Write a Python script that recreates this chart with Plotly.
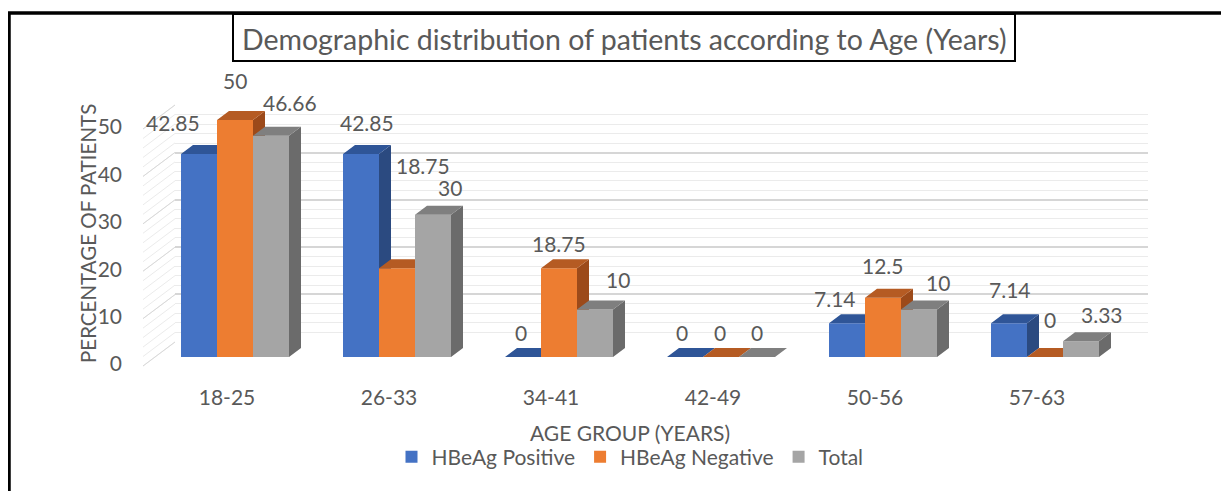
import plotly.graph_objects as go

# -----------------------------------------------------------------------------
# 1. Data
# -----------------------------------------------------------------------------
age_groups = ["18-25", "26-33", "34-41", "42-49", "50-56", "57-63"]
hbeag_positive = [42.85, 42.85, 0, 0, 7.14, 7.14]
hbeag_negative = [50, 18.75, 18.75, 0, 12.5, 0]
total = [46.66, 30, 10, 0, 10, 3.33]

series_names = ["HBeAg Positive", "HBeAg Negative", "Total"]
series_values = [hbeag_positive, hbeag_negative, total]
y_ticks = [0, 10, 20, 30, 40, 50]

# face colours (front / top / side) like Excel's 3D columns
front_colors = ["#4472C4", "#ED7D31", "#A5A5A5"]
top_colors = ["#2F5597", "#B55B23", "#7F7F7F"]
side_colors = ["#2B4A80", "#9C4A1A", "#6B6B6B"]

# Excel moved some data labels around, px nudges (right, up) from the bar top
label_nudge = [
    [(-26, 31), (6, 31), (-2, 25), (-3, 25), (-12, 25), (1, 34)],
    [(0, 40), (26, 103), (0, 25), (-1, 25), (0, 32), (5, 38)],
    [(19, 33), (17, 27), (23, 30), (0, 25), (19, 27), (21, 27)],
]

# -----------------------------------------------------------------------------
# 2. Page geometry (page px; the plot div sits 8px in from the body edge)
# -----------------------------------------------------------------------------
W, H, OFF = 1229, 491, 8
FW, FH = W - OFF, H - OFF
X0_PX, X_STEP = 235, 162      # first cluster centre, cluster spacing
Y0_PX, Y_PX = 357, 4.74       # bar base line, px per percent
DEPTH = (12, 9)               # bar depth offset (right, up)
WALL_FRONT = (143, 366)       # side wall front corner at 0
WALL_BACK = (175, 342)        # back wall corner at 0
WALL_RIGHT = 1148
FONT = "Lato"
GREY = "#595959"


def paper_x(p):
    return (p - OFF) / FW


def paper_y(p):
    return 1 - (p - OFF) / FH


x_range = [(OFF - X0_PX) / X_STEP, (W - X0_PX) / X_STEP]
y_range = [(Y0_PX - H) / Y_PX, (Y0_PX - OFF) / Y_PX]
dx = DEPTH[0] / X_STEP
dy = DEPTH[1] / Y_PX
bar_w = 2 / 9

fig = go.Figure()

# placeholders so the back-wall grid and the label axes get drawn
fig.add_trace(go.Scatter(x=[None], y=[None], showlegend=False, xaxis="x", yaxis="y"))

# side wall hatch (lines running from the front edge to the back wall)
for step, color in [(2, "#EBEBEB"), (10, "#D9D9D9")]:
    wx, wy = [], []
    for v in range(0, 51, step):
        wx += [(WALL_FRONT[0] - X0_PX) / X_STEP, (WALL_BACK[0] - X0_PX) / X_STEP, None]
        wy += [v + (Y0_PX - WALL_FRONT[1]) / Y_PX, v + (Y0_PX - WALL_BACK[1]) / Y_PX, None]
    fig.add_trace(go.Scatter(x=wx, y=wy, mode="lines", line=dict(color=color, width=1),
                             showlegend=False, hoverinfo="skip", xaxis="x2", yaxis="y2"))

# -----------------------------------------------------------------------------
# 3. Bars: one overlaid subplot per series so later series hide earlier sides
# -----------------------------------------------------------------------------
for s, (name, vals) in enumerate(zip(series_names, series_values)):
    xa, ya = f"x{s + 2}", f"y{s + 2}"
    offset = -1 / 3 + s * bar_w
    fig.add_trace(go.Bar(
        x=list(range(len(age_groups))), y=vals, width=bar_w, offset=offset,
        name=name, marker=dict(color=front_colors[s], line_width=0),
        xaxis=xa, yaxis=ya, hovertext=age_groups,
    ))
    tx, ty, sx, sy = [], [], [], []
    for i, v in enumerate(vals):
        x0 = i + offset
        x1 = x0 + bar_w
        tx += [x0, x1, x1 + dx, x0 + dx, x0, None]
        ty += [v, v, v + dy, v + dy, v, None]
        sx += [x1, x1 + dx, x1 + dx, x1, x1, None]
        sy += [0, dy, v + dy, v, 0, None]
    for fx, fy, col in [(sx, sy, side_colors[s]), (tx, ty, top_colors[s])]:
        fig.add_trace(go.Scatter(x=fx, y=fy, fill="toself", fillcolor=col, mode="none",
                                 showlegend=False, hoverinfo="skip", xaxis=xa, yaxis=ya))
    for i, v in enumerate(vals):
        nx, ny = label_nudge[s][i]
        fig.add_annotation(x=i + offset + bar_w / 2, y=v, xref=xa, yref=ya, text=f"{v:g}",
                           showarrow=False, xshift=nx, yshift=ny,
                           xanchor="center", yanchor="middle",
                           font=dict(family=FONT, size=21, color=GREY))

fig.add_trace(go.Scatter(x=[None], y=[None], showlegend=False, xaxis="x5", yaxis="y5"))

# -----------------------------------------------------------------------------
# 4. Axes
# -----------------------------------------------------------------------------
hidden = dict(showgrid=False, zeroline=False, showticklabels=False, showline=False, ticks="")
fig.update_layout(
    # back wall grid
    xaxis=dict(domain=[paper_x(WALL_BACK[0]), paper_x(WALL_RIGHT)], range=[0, 1], **hidden),
    yaxis=dict(domain=[paper_y(WALL_BACK[1]), paper_y(WALL_BACK[1] - 50 * Y_PX)],
               range=[-0.05, 50.05], dtick=10, showgrid=True, gridcolor="#D6D6D6", gridwidth=1.5,
               zeroline=False, showticklabels=False, showline=False, ticks="",
               minor=dict(dtick=2, showgrid=True, gridcolor="#EBEBEB", gridwidth=1)),
    xaxis2=dict(domain=[0, 1], range=x_range, anchor="y2", **hidden),
    yaxis2=dict(domain=[0, 1], range=y_range, anchor="x2", **hidden),
    xaxis3=dict(overlaying="x2", range=x_range, anchor="y3", **hidden),
    yaxis3=dict(overlaying="y2", range=y_range, anchor="x3", **hidden),
    xaxis4=dict(overlaying="x2", range=x_range, anchor="y4", **hidden),
    yaxis4=dict(overlaying="y2", range=y_range, anchor="x4", **hidden),
    # tick labels sit on the front edge of the floor
    xaxis5=dict(overlaying="x2", anchor="free", position=paper_y(383),
                range=[r + 8 / X_STEP for r in x_range], tickvals=list(range(len(age_groups))),
                ticktext=age_groups, ticks="", showgrid=False, zeroline=False, showline=False,
                tickfont=dict(family=FONT, size=21, color=GREY)),
    yaxis5=dict(overlaying="y2", anchor="free", position=paper_x(122), side="left",
                range=[r + 7 / Y_PX for r in y_range], tickvals=y_ticks, ticks="",
                showgrid=False, zeroline=False, showline=False,
                tickfont=dict(family=FONT, size=21, color=GREY)),
)

fig.add_annotation(x=paper_x(88), y=paper_y(234), xref="paper", yref="paper",
                   text="PERCENTAGE OF PATIENTS", textangle=-90, showarrow=False,
                   xanchor="center", yanchor="middle", font=dict(family=FONT, size=20.5, color=GREY))
fig.add_annotation(x=paper_x(630), y=paper_y(432), xref="paper", yref="paper",
                   text="AGE GROUP (YEARS)", showarrow=False, xanchor="center", yanchor="middle",
                   font=dict(family=FONT, size=21, color=GREY))

# title in its own box, chart frame
fig.add_shape(type="rect", xref="paper", yref="paper", x0=paper_x(9), x1=1.05,
              y0=paper_y(13), y1=-0.05, line=dict(color="black", width=3.5))
fig.add_shape(type="rect", xref="paper", yref="paper", x0=paper_x(233), x1=paper_x(1015),
              y0=paper_y(14), y1=paper_y(61), line=dict(color="black", width=2),
              fillcolor="white", layer="below")
fig.add_annotation(x=paper_x(624), y=paper_y(39), xref="paper", yref="paper",
                   text="Demographic distribution of patients according to Age (Years)",
                   showarrow=False, xanchor="center", yanchor="middle",
                   font=dict(family=FONT, size=28.5, color=GREY))

fig.update_layout(
    template="none",
    width=FW, height=FH,
    margin=dict(l=0, r=0, t=0, b=0),
    paper_bgcolor="white", plot_bgcolor="rgba(0,0,0,0)",
    font=dict(family=FONT, size=21, color=GREY),
    showlegend=True,
    legend=dict(orientation="h", x=paper_x(630), xanchor="center", y=paper_y(457),
                yanchor="middle", font=dict(family=FONT, size=21, color=GREY),
                bgcolor="rgba(0,0,0,0)"),
    hovermode=False,
)

fig.write_html("out.html")
